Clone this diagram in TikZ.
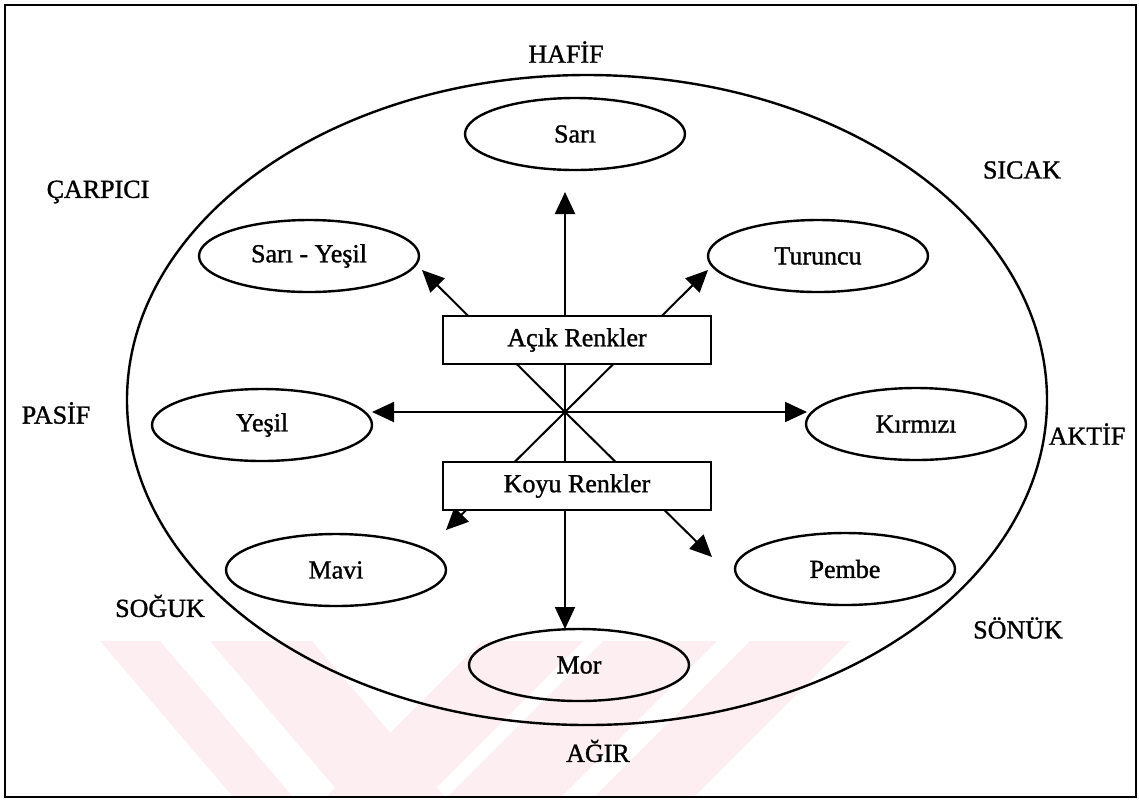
\documentclass[tikz,border=0pt]{standalone}
\usepackage{fontspec}
\setmainfont{Liberation Serif}[BoldFont={Liberation Serif}, BoldFeatures={FakeBold=1.2}]
\usetikzlibrary{arrows.meta,shapes.geometric}
\definecolor{filigran}{RGB}{253,238,241}
\tikzset{
  renk/.style = {ellipse, draw, line width=1.2pt, minimum width=110pt, minimum height=36pt, inner sep=0},
  kutu/.style = {rectangle, draw, fill=white, line width=1.2pt, minimum width=134pt, minimum height=24pt, inner sep=0},
  etiket/.style = {inner sep=0},
  ok/.style = {{Triangle[length=11pt,width=10pt]}-{Triangle[length=11pt,width=10pt]}, line width=1pt}
}

\begin{document}
\begin{tikzpicture}[x=0.5pt, y=-0.5pt, font=\fontsize{13}{15}\selectfont\bfseries]
  \useasboundingbox (0,0) rectangle (1139,800);
  % filigran
  \begin{scope}
    \clip (100,641) rectangle (1000,797);
    \fill[filigran] (100,641) -- (160,641) -- (293,797) -- (233,797) -- cycle;
    \fill[filigran] (210,641) -- (312,641) -- (445,797) -- (343,797) -- cycle;
    \fill[filigran] (482,641) -- (583,641) -- (427,797) -- (326,797) -- cycle;
    \fill[filigran] (603,641) -- (717,641) -- (561,797) -- (447,797) -- cycle;
    \fill[filigran] (750,641) -- (850,641) -- (694,797) -- (594,797) -- cycle;
  \end{scope}
  \draw[line width=1.2pt] (5,5) rectangle (1136,797);
  \draw[line width=1.2pt] (587,400) ellipse [x radius=230pt, y radius=162.5pt];

  % renkler
  \node[renk] (sari)    at (575,134) {Sarı};
  \node[renk] (syesil)  at (309,256) {Sarı - Yeşil};
  \node[renk] (turuncu) at (818,256) {Turuncu};
  \node[renk] (yesil)   at (262,425) {Yeşil};
  \node[renk] (kirmizi) at (916,424) {Kırmızı};
  \node[renk] (mavi)    at (336,570) {Mavi};
  \node[renk] (pembe)   at (845,569) {Pembe};
  \node[renk] (mor)     at (579,665) {Mor};

  % etiketler
  \node[etiket] (hafif)   at (566,52)  {HAFİF};
  \node[etiket] (sicak)   at (1022,170) {SICAK};
  \node[etiket] (carpici) at (98,192)  {ÇARPICI};
  \node[etiket] (pasif)   at (56,413)  {PASİF};
  \node[etiket] (aktif)   at (1087,434) {AKTİF};
  \node[etiket] (soguk)   at (160,606) {SOĞUK};
  \node[etiket] (sonuk)   at (1018,628) {SÖNÜK};
  \node[etiket] (agir)    at (598,751) {AĞIR};

  % oklar
  \coordinate (merkez) at (565,412);
  \coordinate (uc-sari) at (565,192);
  \coordinate (uc-mor) at (565,629);
  \coordinate (uc-yesil) at (372,412);
  \coordinate (uc-kirmizi) at (807,412);
  \coordinate (uc-syesil) at (422,270);
  \coordinate (uc-pembe) at (712,557);
  \coordinate (uc-turuncu) at (708,270);
  \coordinate (uc-mavi) at (446,530);
  \draw[ok] (uc-sari) -- (merkez) -- (uc-mor);
  \draw[ok] (uc-yesil) -- (merkez) -- (uc-kirmizi);
  \draw[ok] (uc-syesil) -- (merkez) -- (uc-pembe);
  \draw[ok] (uc-turuncu) -- (merkez) -- (uc-mavi);

  \node[kutu] (acik) at (577,340) {Açık Renkler};
  \node[kutu] (koyu) at (577,486) {Koyu Renkler};
\end{tikzpicture}
\end{document}
